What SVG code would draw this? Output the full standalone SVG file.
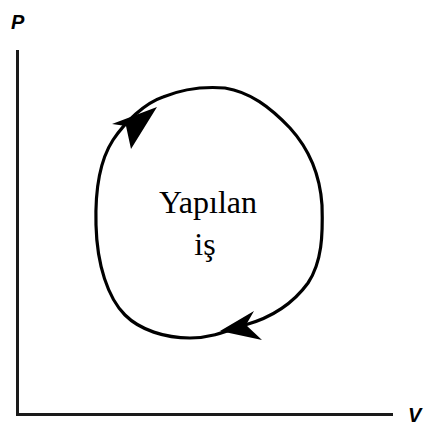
<svg xmlns="http://www.w3.org/2000/svg" width="427" height="425" viewBox="0 0 427 425">
<style>
.axis{fill:none;stroke:#1a1a1a;stroke-width:3}
.cyc{fill:none;stroke:#000;stroke-width:3.2;stroke-linecap:round;stroke-linejoin:round}
.ax{font-family:"Liberation Sans",Arial,sans-serif;font-weight:bold;font-style:italic;font-size:20px;fill:#000}
.lbl{font-family:"Liberation Serif","Times New Roman",serif;font-size:32px;fill:#000}
</style>
<rect width="427" height="425" fill="#fff"/>
<g id="axes">
<path class="axis" d="M17.5 50 V414.5 H393"/>
<text class="ax" x="11" y="29">P</text>
<text class="ax" x="408" y="422">V</text>
</g>
<g id="connectors">
<path class="cyc" d="M96 225 C95 190 100 160 113 140 C125 122 145 103 163 97 C180 90 200 86 225 88 C250 92 270 107 290 128 C310 150 320 175 322 205 C323 235 322 262 308 283 C292 305 270 318 245 325 C225 332 210 338 190 338 C165 338 140 330 125 315 C108 298 97 265 96 225 Z"/>
<path d="M157 107 L112 124 L126 126 L131 149 Z" fill="#000"/>
<path d="M220 331 L254 311 L246 325 L262 340 Z" fill="#000"/>
</g>
<g id="label">
<text class="lbl" x="208" y="213" text-anchor="middle">Yapılan</text>
<text class="lbl" x="205" y="255" text-anchor="middle">iş</text>
</g>
</svg>
